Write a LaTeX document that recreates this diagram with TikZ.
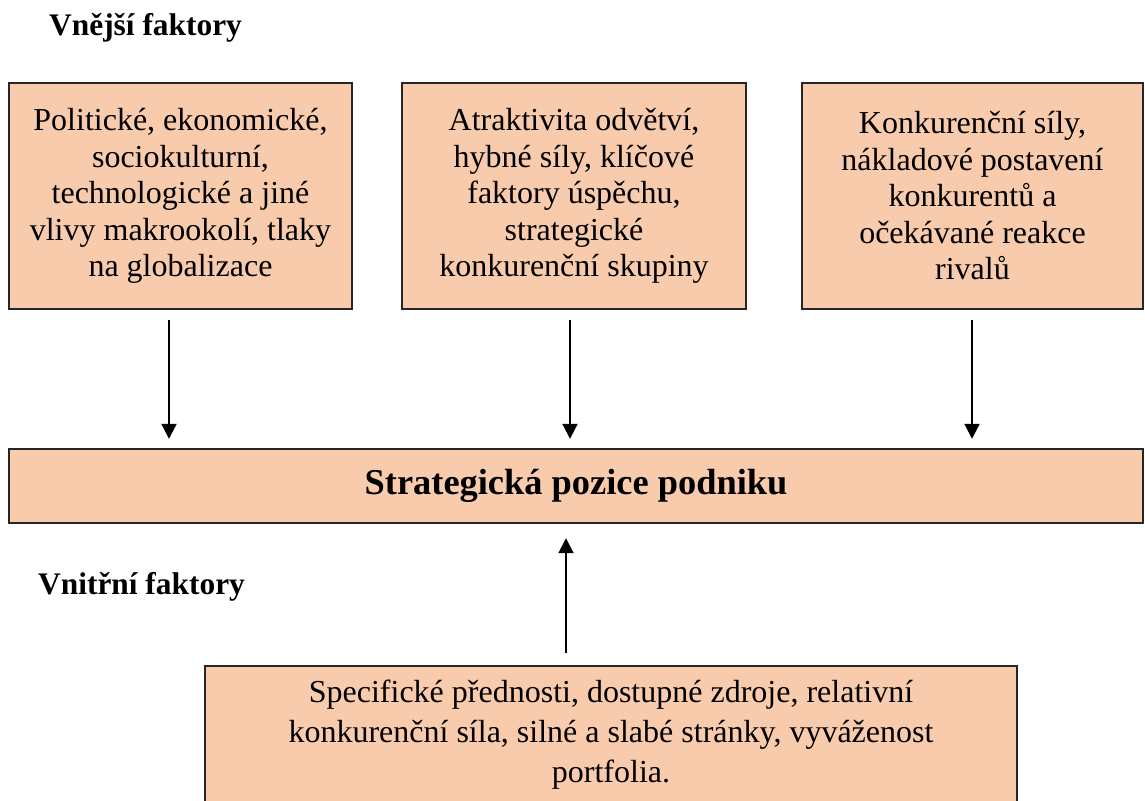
\documentclass[tikz,border=0pt]{standalone}
\usepackage{fontspec}
\setmainfont{Liberation Serif}
\usetikzlibrary{arrows.meta}
\definecolor{peach}{RGB}{248,203,173}
\begin{document}
\begin{tikzpicture}[x=1pt,y=-1pt,
  box/.style={draw=black!85, line width=2.4pt, fill=peach, inner sep=0pt, align=center,
    font=\fontsize{32}{36.5}\selectfont},
  boxtext/.style={inner sep=0pt, align=center, font=\fontsize{32}{40}\selectfont},
  title/.style={font=\bfseries\fontsize{31.4}{36}\selectfont, anchor=base west, inner sep=0pt},
  arr/.style={line width=2pt, -{Triangle[width=15pt,length=15pt]}}]
\useasboundingbox (0,0) rectangle (1145,800);
\clip (0,0) rectangle (1145,800);

\node[title] (ext) at (49,36) {Vnější faktory};
\node[title] (int) at (38,594) {Vnitřní faktory};

\node[box, minimum width=343pt, minimum height=226pt] (b1) at (180.5,196)
  {Politické, ekonomické,\\ sociokulturní,\\ technologické a jiné\\ vlivy makrookolí, tlaky\\ na globalizace};
\node[box, minimum width=344pt, minimum height=226pt] (b2) at (574,196)
  {Atraktivita odvětví,\\ hybné síly, klíčové\\ faktory úspěchu,\\ strategické\\ konkurenční skupiny};
\node[box, minimum width=341pt, minimum height=226pt] (b3) at (972.5,196)
  {Konkurenční síly,\\ nákladové postavení\\ konkurentů a\\ očekávané reakce\\ rivalů};

\node[box, minimum width=1134pt, minimum height=74pt, font=\bfseries\fontsize{36.4}{40}\selectfont] (main) at (576,486)
  {Strategická pozice podniku};

\node[box, minimum width=812pt, minimum height=200pt, anchor=north] (b4) at (611,665) {};
\node[boxtext] (b4t) at (611,735)
  {Specifické přednosti, dostupné zdroje, relativní\\ konkurenční síla, silné a slabé stránky, vyváženost\\ portfolia.};

\coordinate (a1) at (169,0);
\coordinate (a2) at (570,0);
\coordinate (a3) at (972,0);
\coordinate (a4) at (566,0);

\draw[arr, shorten <=10pt, shorten >=9pt] (b1.south -| a1) -- (main.north -| a1);
\draw[arr, shorten <=10pt, shorten >=9pt] (b2.south -| a2) -- (main.north -| a2);
\draw[arr, shorten <=10pt, shorten >=9pt] (b3.south -| a3) -- (main.north -| a3);
\draw[arr, shorten <=12pt, shorten >=14pt] (b4.north -| a4) -- (main.south -| a4);
\end{tikzpicture}
\end{document}
